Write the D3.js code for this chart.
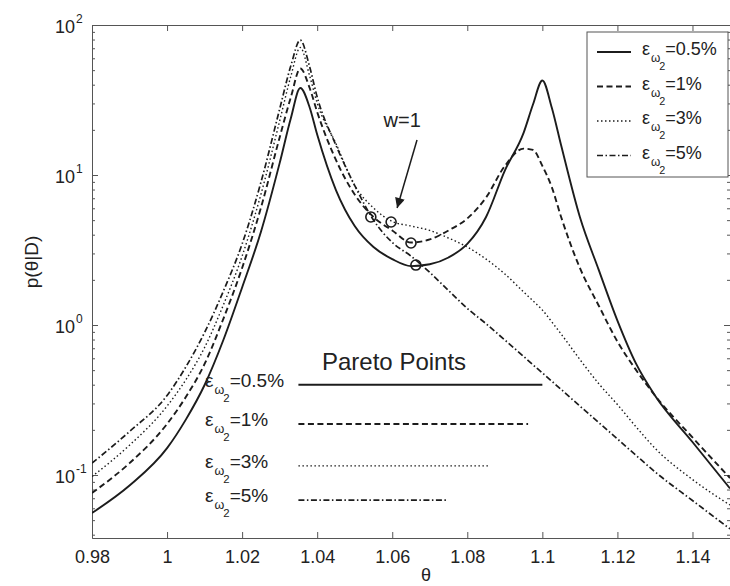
<!DOCTYPE html>
<html>
<head>
<meta charset="utf-8">
<title>p(theta|D)</title>
<script src="https://d3js.org/d3.v7.min.js"></script>
<style>
body { margin:0; background:#fff; }
svg { display:block; font-family:"Liberation Sans", Arial, sans-serif; }
.axis path, .axis line { stroke:#555; stroke-width:1; }
.axis text { font-size:18px; fill:#222; font-family:"Liberation Sans", Arial, sans-serif; }
.curve { fill:none; stroke:#1c1c1c; }
</style>
</head>
<body>
<svg id="chart" width="730" height="586"></svg>
<script>
// theta grid shared by the four curves
var theta = [0.98, 0.99, 1.00, 1.005, 1.01, 1.015, 1.02, 1.025, 1.03, 1.033, 1.0355, 1.038, 1.04, 1.045, 1.05, 1.055,
             1.06, 1.065, 1.07, 1.075, 1.08, 1.085, 1.09, 1.095, 1.0975, 1.1, 1.1025, 1.105, 1.11,
             1.115, 1.12, 1.125, 1.13, 1.14, 1.15];

// p(theta|D)
var p05 = [0.0558, 0.0851, 0.151, 0.234, 0.398, 0.794, 1.78, 4.17, 12.0, 24.0, 38.0, 28.2, 18.6, 7.94, 4.57, 3.31,
           2.75, 2.47, 2.54, 2.82, 3.47, 5.25, 10.7, 19.1, 29.5, 42.7, 28.2, 15.8, 5.25,
           2.34, 1.07, 0.55, 0.339, 0.166, 0.0813];
var p1  = [0.0759, 0.120, 0.219, 0.331, 0.550, 1.10, 2.40, 6.03, 17.8, 33.1, 51.3, 38.0, 26.3, 12.6, 7.41, 5.25,
           4.27, 3.55, 3.72, 4.27, 5.13, 7.08, 11.5, 15.0, 14.7, 11.5, 8.32, 5.25, 2.40,
           1.35, 0.776, 0.50, 0.339, 0.178, 0.0955];
var p3  = [0.0977, 0.158, 0.288, 0.431, 0.708, 1.36, 2.88, 7.41, 22.9, 45.7, 70.8, 45.7, 30.2, 16.2, 8.51, 6.03,
           4.90, 4.57, 4.27, 3.80, 3.31, 2.75, 2.19, 1.66, 1.45, 1.26, 1.05, 0.871, 0.589,
           0.407, 0.295, 0.209, 0.151, 0.0933, 0.0631];
var p5  = [0.120, 0.195, 0.339, 0.525, 0.891, 1.68, 3.47, 8.91, 27.5, 53.7, 79.4, 52.5, 33.1, 15.8, 8.51, 5.01,
           3.55, 2.88, 2.24, 1.70, 1.29, 1.02, 0.794, 0.617, 0.543, 0.479, 0.422, 0.372, 0.288,
           0.224, 0.174, 0.135, 0.105, 0.0676, 0.0437];

var seriesLabels = ["0.5%", "1%", "3%", "5%"];

// Pareto points (w=1), one per curve
var paretoTheta = [1.0663, 1.065, 1.0597, 1.0543];
var paretoValue = [2.51, 3.52, 4.86, 5.25];

// "Pareto Points" key lines: left end, right ends and levels
var keyStart = 1.035;
var keyEnd = [1.1, 1.0962, 1.086, 1.0746];
var keyLevel = [0.40, 0.219, 0.115, 0.068];

var xTicks = [0.98, 1.00, 1.02, 1.04, 1.06, 1.08, 1.10, 1.12, 1.14];
var xTickLabels = ["0.98", "1", "1.02", "1.04", "1.06", "1.08", "1.1", "1.12", "1.14"];
var yTicks = [0.1, 1, 10, 100];
var yTickExp = ["-1", "0", "1", "2"];

var svg = d3.select("#chart"),
    mLeft = 92, mRight = 730, mTop = 25, mBottom = 538;

var x = d3.scaleLinear().domain([0.98, 1.15]).range([mLeft, mRight]);
var y = d3.scaleLog().domain([Math.pow(10, -1.42), 100]).range([mBottom, mTop]);

var styles = [
  {w: 1.9, dash: null},
  {w: 1.9, dash: "6,3.5"},
  {w: 1.4, dash: "1.5,2.5"},
  {w: 1.7, dash: "6,2.5,1.5,2.5"}
];

svg.append("defs").append("clipPath").attr("id", "clip")
  .append("rect").attr("x", mLeft).attr("y", mTop).attr("width", mRight - mLeft).attr("height", mBottom - mTop);

svg.append("defs").append("marker")
  .attr("id", "head").attr("viewBox", "0 0 10 10").attr("refX", 10).attr("refY", 5)
  .attr("markerWidth", 14).attr("markerHeight", 10).attr("markerUnits", "userSpaceOnUse")
  .attr("orient", "auto")
  .append("path").attr("d", "M0,0 L10,5 L0,10 z").attr("fill", "#1c1c1c");

// axes
var minor = y.ticks().filter(function(d) {
  var l = Math.log10(d);
  return Math.abs(l - Math.round(l)) > 1e-6;
});

svg.append("g").attr("class", "axis").attr("transform", "translate(0," + mBottom + ")")
  .call(d3.axisBottom(x).tickValues(xTicks).tickFormat(function(d, i) { return xTickLabels[i]; })
    .tickSizeInner(-6).tickSizeOuter(0).tickPadding(12));
svg.append("g").attr("class", "axis").attr("transform", "translate(0," + mTop + ")")
  .call(d3.axisTop(x).tickValues(xTicks).tickFormat("").tickSizeInner(-6).tickSizeOuter(0));
svg.append("g").attr("class", "axis").attr("transform", "translate(" + mLeft + ",0)")
  .call(d3.axisLeft(y).tickValues(yTicks).tickFormat("").tickSizeInner(-6).tickSizeOuter(0));
svg.append("g").attr("class", "axis").attr("transform", "translate(" + mLeft + ",0)")
  .call(d3.axisLeft(y).tickValues(minor).tickFormat("").tickSizeInner(-3).tickSizeOuter(0));
svg.append("g").attr("class", "axis").attr("transform", "translate(" + mRight + ",0)")
  .call(d3.axisRight(y).tickValues(yTicks).tickFormat("").tickSizeInner(-6).tickSizeOuter(0));
svg.append("g").attr("class", "axis").attr("transform", "translate(" + mRight + ",0)")
  .call(d3.axisRight(y).tickValues(minor).tickFormat("").tickSizeInner(-3).tickSizeOuter(0));

// y tick labels 10^n
yTicks.forEach(function(v, i) {
  var t = svg.append("text").attr("x", 55).attr("y", y(v) + 7.5)
    .style("font-size", "18px").style("fill", "#222");
  t.append("tspan").text("10");
  t.append("tspan").attr("dy", -10).attr("dx", 1).style("font-size", "12px").text(yTickExp[i]);
});

svg.append("text").attr("x", 426).attr("y", 581).attr("text-anchor", "middle")
  .style("font-size", "18px").style("fill", "#222").text("θ");
svg.append("text").attr("transform", "translate(38,262) rotate(-90)").attr("text-anchor", "middle")
  .style("font-size", "19px").style("fill", "#222").text("p(θ|D)");

// curves
var series = [p05, p1, p3, p5];
var line = d3.line()
  .x(function(d) { return x(d[0]); })
  .y(function(d) { return y(d[1]); })
  .curve(d3.curveMonotoneX);

var plot = svg.append("g").attr("clip-path", "url(#clip)");
series.forEach(function(vals, i) {
  plot.append("path").attr("class", "curve")
    .attr("d", line(theta.map(function(t, j) { return [t, vals[j]]; })))
    .attr("stroke-width", styles[i].w)
    .attr("stroke-dasharray", styles[i].dash);
});

// Pareto points
plot.selectAll("circle.pareto").data(paretoTheta).enter().append("circle")
  .attr("class", "pareto")
  .attr("cx", function(d) { return x(d); })
  .attr("cy", function(d, i) { return y(paretoValue[i]); })
  .attr("r", 5).attr("fill", "none").attr("stroke", "#1c1c1c").attr("stroke-width", 1.6);

// w=1 arrow
svg.append("line")
  .attr("x1", x(1.0666)).attr("y1", y(17.1))
  .attr("x2", x(1.0613)).attr("y2", y(6.03))
  .attr("stroke", "#1c1c1c").attr("stroke-width", 1.5).attr("marker-end", "url(#head)");
svg.append("text").attr("x", x(1.0577)).attr("y", y(20.9))
  .style("font-size", "20px").style("fill", "#222").text("w=1");

function epsLabel(g, px, py, txt, size) {
  var t = g.append("text").attr("x", px).attr("y", py).style("font-size", size + "px").style("fill", "#222");
  t.append("tspan").text("ε");
  t.append("tspan").attr("dy", 7).attr("dx", 1).style("font-size", (size * 0.66) + "px").text("ω");
  t.append("tspan").attr("dy", 8).attr("dx", -1).style("font-size", (size * 0.6) + "px").text("2");
  t.append("tspan").attr("dy", -15).attr("dx", 0).text("=" + txt);
}

// Pareto Points key
svg.append("text").attr("x", 322).attr("y", 370).style("font-size", "24px").style("fill", "#222")
  .text("Pareto Points");
keyLevel.forEach(function(v, i) {
  svg.append("line").attr("class", "curve")
    .attr("x1", x(keyStart)).attr("x2", x(keyEnd[i]))
    .attr("y1", y(v)).attr("y2", y(v))
    .attr("stroke-width", styles[i].w).attr("stroke-dasharray", styles[i].dash);
  epsLabel(svg, 205, y(v) + 2, seriesLabels[i], 19);
});

// legend
var lg = svg.append("g");
lg.append("rect").attr("x", 587).attr("y", 32).attr("width", 141).attr("height", 145)
  .attr("fill", "#fff").attr("stroke", "#555").attr("stroke-width", 1);
seriesLabels.forEach(function(s, i) {
  var yy = 52 + i * 34.5;
  lg.append("line").attr("class", "curve")
    .attr("x1", 597).attr("x2", 631).attr("y1", yy).attr("y2", yy)
    .attr("stroke-width", styles[i].w).attr("stroke-dasharray", styles[i].dash);
  epsLabel(lg, 642, yy + 3, s, 18);
});
</script>
</body>
</html>
